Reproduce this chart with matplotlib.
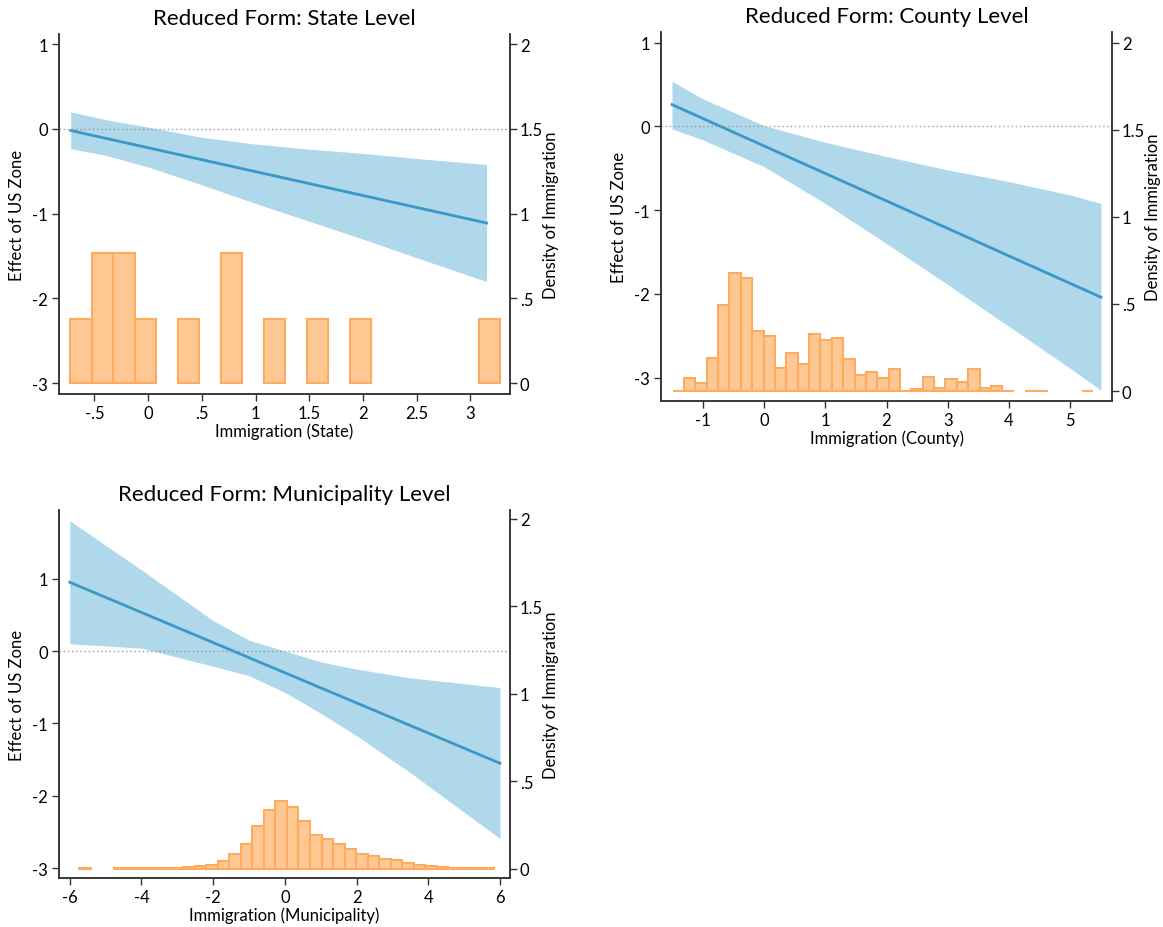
import numpy as np
import matplotlib
matplotlib.use("Agg")
import matplotlib.pyplot as plt

plt.rcParams['font.family'] = ['Lato', 'DejaVu Sans']

# ---- state level ----
state_line_x = [-0.72, 3.15]
state_line_y = [-0.02, -1.11]
state_ci_x = [-0.72, -0.4, 0, 0.5, 1, 1.5, 2, 2.5, 3.15]
state_ci_hi = [0.20, 0.11, 0.02, -0.10, -0.18, -0.24, -0.29, -0.35, -0.42]
state_ci_lo = [-0.235, -0.31, -0.45, -0.66, -0.88, -1.09, -1.30, -1.52, -1.80]
state_bin_start = -0.725
state_bin_width = 0.2
state_density = [0.38, 0.77, 0.77, 0.38, None, 0.38, None, 0.77, None, 0.38,
                 None, 0.38, None, 0.38, None, None, None, None, None, 0.38]

# ---- county level ----
county_line_x = [-1.5, 5.5]
county_line_y = [0.26, -2.04]
county_ci_x = [-1.5, -1.0, 0, 1, 2, 3, 4, 5, 5.5]
county_ci_hi = [0.54, 0.33, 0.01, -0.19, -0.36, -0.52, -0.66, -0.82, -0.92]
county_ci_lo = [-0.03, -0.16, -0.48, -0.92, -1.40, -1.89, -2.39, -2.89, -3.15]
county_bin_start = -1.49
county_bin_width = 0.1855
county_density = [0.0, 0.073, 0.044, 0.191, 0.494, 0.679, 0.651, 0.346, 0.314, 0.130,
                  0.218, 0.153, 0.329, 0.291, 0.306, 0.184, 0.094, 0.111, 0.073, 0.128,
                  0.0, 0.013, 0.078, 0.015, 0.067, 0.054, 0.128, 0.019, 0.031, 0.0,
                  None, 0.0, 0.0, None, None, None, 0.0]

# ---- municipality level ----
muni_line_x = [-6, 6]
muni_line_y = [0.95, -1.55]
muni_ci_x = [-6, -4, -2, -1, 0, 1, 2, 3.5, 6]
muni_ci_hi = [1.80, 1.12, 0.42, 0.15, 0.0, -0.15, -0.25, -0.37, -0.505]
muni_ci_lo = [0.10, 0.04, -0.21, -0.34, -0.57, -0.86, -1.17, -1.68, -2.59]
muni_bin_start = -5.73
muni_bin_width = 0.3216
muni_density = [0.002, None, None, 0.002, 0.002, 0.002, 0.002, 0.001, 0.002, 0.008,
                0.013, 0.023, 0.042, 0.082, 0.141, 0.246, 0.337, 0.387, 0.349, 0.270,
                0.189, 0.171, 0.141, 0.114, 0.084, 0.072, 0.057, 0.050, 0.034, 0.019,
                0.013, 0.010, 0.005, 0.004, 0.003, 0.003]

CI_COL = '#afd8ea'
LINE_COL = '#3a98c8'
BAR_FILL = '#ffc893'
BAR_EDGE = '#fdab5e'
AX_COL = '#333333'

W, H = 1163, 928
fig = plt.figure(figsize=(W / 100, H / 100), dpi=100)


def panel(box, title, xlabel, xlim, ylim, ylim2, xticks, xticklabels,
          line_x, line_y, ci_x, ci_hi, ci_lo, bin_start, bin_width, density):
    l, t, r, b = box
    ax = fig.add_axes([l / W, 1 - b / H, (r - l) / W, (b - t) / H])
    ax2 = ax.twinx()
    ax.set_zorder(ax2.get_zorder() + 1)
    ax.patch.set_visible(False)

    dens = np.array([np.nan if d is None else d for d in density], dtype=float)
    lefts = bin_start + bin_width * np.arange(len(dens))
    ok = ~np.isnan(dens)
    ax2.bar(lefts[ok], dens[ok], width=bin_width, align='edge', color=BAR_FILL,
            edgecolor=BAR_EDGE, linewidth=1.5)

    ax.fill_between(ci_x, ci_lo, ci_hi, color=CI_COL, linewidth=0)
    ax.plot(line_x, line_y, color=LINE_COL, lw=2)
    ax.axhline(0, color='#999999', ls=(0, (1, 2)), lw=1)

    ax.set_xlim(xlim)
    ax.set_ylim(ylim)
    ax2.set_ylim(ylim2)
    ax.set_xticks(xticks)
    ax.set_xticklabels(xticklabels)
    ax.set_yticks([1, 0, -1, -2, -3])
    ax.set_yticklabels(['1', '0', '-1', '-2', '-3'])
    ax2.set_yticks([2, 1.5, 1, 0.5, 0])
    ax2.set_yticklabels(['2', '1.5', '1', '.5', '0'])

    for a in (ax, ax2):
        a.spines['top'].set_visible(False)
        for s in ('left', 'right', 'bottom'):
            a.spines[s].set_color(AX_COL)
            a.spines[s].set_linewidth(1.1)
        a.tick_params(direction='out', length=5, width=1, color=AX_COL,
                      labelsize=12, labelcolor='black', pad=3)
    ax2.tick_params(pad=2)

    ax.set_title(title, fontsize=16, pad=7)
    ax.set_xlabel(xlabel, fontsize=12, labelpad=1)
    ax.set_ylabel('Effect of US Zone', fontsize=12, labelpad=5)
    ax2.set_ylabel('Density of Immigration', fontsize=12, labelpad=0, rotation=90)
    return ax


panel((59, 35, 510, 395), 'Reduced Form: State Level', 'Immigration (State)',
      (-0.829, 3.368), (-3.126, 1.118), (-0.063, 2.059),
      [-0.5, 0, 0.5, 1, 1.5, 2, 2.5, 3], ['-.5', '0', '.5', '1', '1.5', '2', '2.5', '3'],
      state_line_x, state_line_y, state_ci_x, state_ci_hi, state_ci_lo,
      state_bin_start, state_bin_width, state_density)

panel((661, 33, 1112, 402), 'Reduced Form: County Level', 'Immigration (County)',
      (-1.68, 5.68), (-3.279, 1.127), (-0.057, 2.061),
      [-1, 0, 1, 2, 3, 4, 5], ['-1', '0', '1', '2', '3', '4', '5'],
      county_line_x, county_line_y, county_ci_x, county_ci_hi, county_ci_lo,
      county_bin_start, county_bin_width, county_density)

panel((59, 511, 510, 879), 'Reduced Form: Municipality Level', 'Immigration (Municipality)',
      (-6.30, 6.28), (-3.135, 1.948), (-0.054, 2.049),
      [-6, -4, -2, 0, 2, 4, 6], ['-6', '-4', '-2', '0', '2', '4', '6'],
      muni_line_x, muni_line_y, muni_ci_x, muni_ci_hi, muni_ci_lo,
      muni_bin_start, muni_bin_width, muni_density)

plt.savefig('out.png', dpi=100)
